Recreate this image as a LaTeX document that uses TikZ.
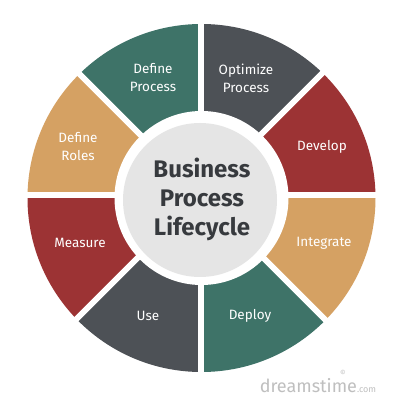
\documentclass[tikz,border=0pt]{standalone}
\usepackage{fontspec}
\setmainfont{Fira Sans}
\usetikzlibrary{calc}
\definecolor{cteal}{RGB}{62,115,104}
\definecolor{cgray}{RGB}{77,81,86}
\definecolor{cred}{RGB}{156,51,52}
\definecolor{ctan}{RGB}{213,161,99}
\definecolor{ctitle}{RGB}{55,58,62}
\tikzset{
  seglabel/.style={text=white,align=center,font=\fontsize{13.5}{18}\selectfont},
  titlelabel/.style={text=ctitle,align=center,font=\bfseries\fontsize{24}{29}\selectfont},
  gapline/.style={white,line width=6pt},
}
\begin{document}
\begin{tikzpicture}[x=1pt,y=1pt]
\useasboundingbox[fill=white] (0,0) rectangle (400,400);
\coordinate (C) at (201.5,202);
\coordinate (G) at (200.5,205);
\begin{scope}
  \clip (C) circle[radius=174];
  \foreach \a/\col in {45/cgray,0/cred,-45/ctan,-90/cteal,-135/cgray,-180/cred,135/ctan,90/cteal}{
    \fill[\col] (G) -- ($(G)+(\a:300)$) -- ($(G)+(\a+22.5:424)$) -- ($(G)+(\a+45:300)$) -- cycle;
  }
\end{scope}
\fill[white] (C) circle[radius=87];
\foreach \a in {0,45,90,135}{
  \draw[gapline] ($(G)+(\a:-200)$) -- ($(G)+(\a:200)$);
}
\fill[black!10] (200,200) circle[radius=77];
\node[seglabel] (dp) at (153,322) {Define\\Process};
\node[seglabel] (op) at (246,322) {Optimize\\Process};
\node[seglabel] (dv) at (322,253) {Develop};
\node[seglabel] (ig) at (324,157) {Integrate};
\node[seglabel] (dy) at (250,84) {Deploy};
\node[seglabel] (us) at (148,84) {Use};
\node[seglabel] (ms) at (80,157) {Measure};
\node[seglabel] (dr) at (78,253) {Define\\Roles};
\node[titlelabel] (tt) at (202,201) {Business\\Process\\Lifecycle};
\node[text=black!25,font=\fontsize{18}{18}\selectfont,inner sep=0pt] (wm) at (318,14) {dreamstime{\fontsize{9}{9}\selectfont.com}};
\node[text=black!25,font=\fontsize{7}{7}\selectfont,inner sep=0pt] (wc) at (343,27) {©};
\end{tikzpicture}
\end{document}
